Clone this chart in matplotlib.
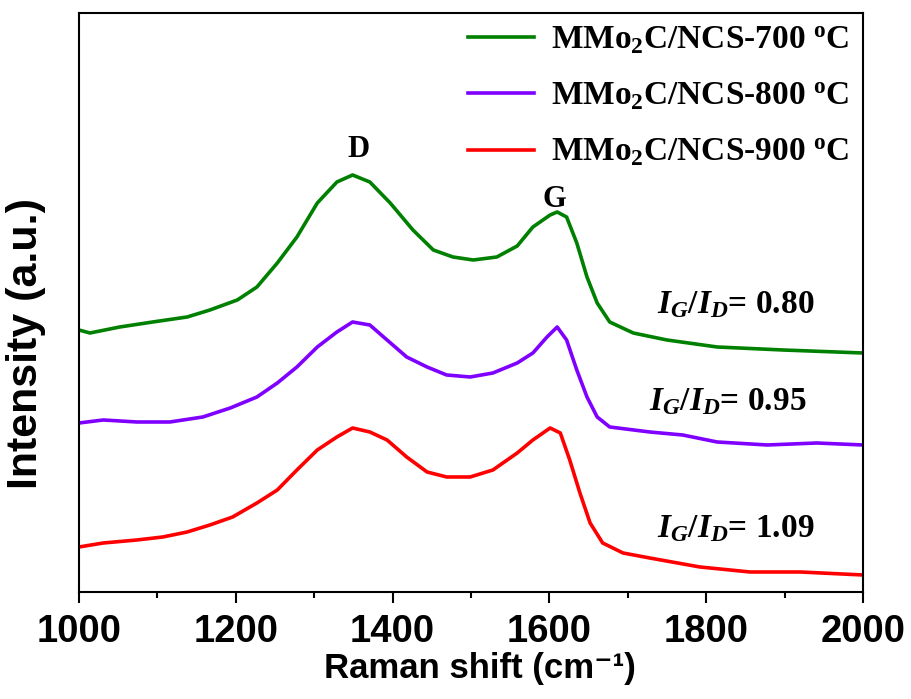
import matplotlib
matplotlib.use("Agg")
import matplotlib.pyplot as plt
from matplotlib.ticker import MultipleLocator

# Raman spectra (intensity in arbitrary units, stacked)
x_700 = [1000, 1014, 1052, 1094, 1138, 1167, 1202, 1227, 1253, 1278, 1304, 1329,
         1349, 1371, 1397, 1426, 1452, 1477, 1503, 1533, 1559, 1579, 1601, 1610,
         1622, 1635, 1648, 1661, 1677, 1707, 1750, 1814, 1898, 2000]
y_700 = [262, 259, 265, 270, 275, 282, 292, 305, 329, 355, 389, 410,
         417, 410, 389, 362, 342, 335, 332, 335, 346, 365, 377, 380,
         375, 349, 315, 289, 270, 259, 252, 245, 242, 239]

x_800 = [1000, 1031, 1074, 1116, 1158, 1193, 1227, 1253, 1278, 1304, 1329, 1349,
         1371, 1393, 1418, 1444, 1469, 1499, 1528, 1559, 1579, 1597, 1610, 1622,
         1635, 1648, 1661, 1677, 1728, 1770, 1814, 1878, 1941, 2000]
y_800 = [169, 172, 170, 170, 175, 184, 195, 209, 225, 245, 260, 270,
         267, 252, 235, 225, 217, 215, 219, 229, 239, 255, 265, 252,
         222, 195, 175, 165, 160, 157, 150, 147, 149, 147]

x_900 = [1000, 1031, 1074, 1107, 1138, 1167, 1196, 1227, 1253, 1278, 1304, 1329,
         1349, 1371, 1393, 1418, 1444, 1469, 1499, 1528, 1559, 1579, 1601, 1614,
         1626, 1639, 1652, 1668, 1694, 1728, 1792, 1856, 1920, 2000]
y_900 = [45, 49, 52, 55, 60, 67, 75, 89, 102, 122, 142, 155,
         164, 160, 152, 135, 120, 115, 115, 122, 139, 152, 164, 159,
         132, 99, 69, 49, 39, 34, 25, 20, 20, 17]

labels = [r'MMo$_2$C/NCS-700 $^\mathrm{o}$C',
          r'MMo$_2$C/NCS-800 $^\mathrm{o}$C',
          r'MMo$_2$C/NCS-900 $^\mathrm{o}$C']
colors = ['#008000', '#8000ff', '#ff0000']
ratios = ['0.80', '0.95', '1.09']

plt.rcParams['mathtext.fontset'] = 'custom'
plt.rcParams['mathtext.rm'] = 'Liberation Serif:bold'
plt.rcParams['mathtext.bf'] = 'Liberation Serif:bold'
plt.rcParams['mathtext.it'] = 'Liberation Serif:italic:bold'

fig = plt.figure(figsize=(9.12, 6.99), dpi=100)
ax = fig.add_axes([0.0866, 0.1531, 0.8596, 0.8283])

lines = []
for xs, ys, c in zip([x_700, x_800, x_900], [y_700, y_800, y_900], colors):
    ln, = ax.plot(xs, ys, color=c, lw=2.6)
    lines.append(ln)

ax.set_xlim(1000, 2000)
ax.set_ylim(0, 579)
ax.xaxis.set_major_locator(MultipleLocator(200))
ax.xaxis.set_minor_locator(MultipleLocator(100))
ax.set_yticks([])
ax.tick_params(axis='x', which='major', direction='out', length=8, width=1.5,
               pad=8, labelsize=27.5)
ax.tick_params(axis='x', which='minor', direction='out', length=4.5, width=1.5)
for lab in ax.get_xticklabels():
    lab.set_fontfamily('Liberation Sans')
    lab.set_fontweight('bold')
for sp in ax.spines.values():
    sp.set_linewidth(1.5)

ax.set_xlabel('Raman shift (cm\u207b\u00b9)', fontsize=25, fontweight='bold',
              family=['Liberation Sans', 'DejaVu Sans'])
ax.xaxis.set_label_coords(0.511, -0.103)
ax.set_ylabel('Intensity (a.u.)', fontsize=31, fontweight='bold',
              family='Liberation Sans')
ax.yaxis.set_label_coords(-0.042, 0.43)

leg = ax.legend(lines, labels, loc='upper left', bbox_to_anchor=(0.496, 0.98),
                frameon=False, borderaxespad=0, borderpad=0,
                handlelength=2.0, handletextpad=0.5, labelspacing=0.75,
                prop={'family': 'Liberation Serif', 'weight': 'bold', 'size': 24})

# peak labels
ax.text(1357, 435, 'D', ha='center', va='baseline', fontsize=22,
        family='Liberation Serif', fontweight='bold')
ax.text(1607, 385, 'G', ha='center', va='baseline', fontsize=22,
        family='Liberation Serif', fontweight='bold')

# I_G/I_D ratios
for (xt, yt), r in zip([(1737, 279), (1727, 182), (1737, 55)], ratios):
    ax.text(xt, yt, r'$I_G/I_D$= ' + r, ha='left', va='baseline', fontsize=24,
            family='Liberation Serif', fontweight='bold')

fig.savefig('out.png', dpi=100)
